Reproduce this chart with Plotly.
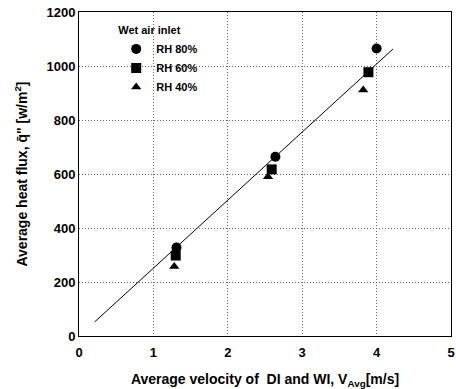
import plotly.graph_objects as go

# Data
v_rh80 = [1.31, 2.64, 4.00]
q_rh80 = [328, 664, 1065]
v_rh60 = [1.30, 2.59, 3.89]
q_rh60 = [298, 617, 977]
v_rh40 = [1.28, 2.54, 3.82]
q_rh40 = [257, 590, 911]
fit_v = [0.21, 4.22]
fit_q = [52, 1063]

x_ticks = [0, 1, 2, 3, 4, 5]
y_ticks = [0, 200, 400, 600, 800, 1000, 1200]

FONT = "Liberation Sans, Arial, sans-serif"

fig = go.Figure()
fig.add_trace(go.Scatter(x=fit_v, y=fit_q, mode="lines",
                         line=dict(color="black", width=1), showlegend=False))
fig.add_trace(go.Scatter(x=v_rh80, y=q_rh80, mode="markers", name="RH 80%",
                         marker=dict(symbol="circle", size=10, color="black")))
fig.add_trace(go.Scatter(x=v_rh60, y=q_rh60, mode="markers", name="RH 60%",
                         marker=dict(symbol="square", size=10, color="black")))
fig.add_trace(go.Scatter(x=v_rh40, y=q_rh40, mode="markers", name="RH 40%",
                         marker=dict(symbol="triangle-up", size=9, color="black")))

axis_common = dict(showline=True, linecolor="black", linewidth=1, mirror=True,
                   showgrid=True, gridcolor="#666666", griddash="1px,2px", gridwidth=1,
                   zeroline=False, ticks="", automargin=False,
                   tickfont=dict(family=FONT, size=13, color="black", weight="bold"))

fig.update_layout(
    width=456, height=389,
    margin=dict(l=79, r=5, t=12, b=53),
    paper_bgcolor="white", plot_bgcolor="white",
    font=dict(family=FONT, color="black"),
    xaxis=dict(range=[0, 5], tickvals=x_ticks, ticktext=[str(t) for t in x_ticks],
               ticklabelstandoff=4,
               title=dict(text="Average velocity of  DI and WI, V<sub>Avg</sub>[m/s]",
                          font=dict(family=FONT, size=14, color="black", weight="bold")),
               **axis_common),
    yaxis=dict(range=[0, 1200], tickvals=y_ticks, ticktext=[str(t) for t in y_ticks],
               title=dict(text="Average heat flux, q\u0304\" [w/m<sup>2</sup>]",
                          font=dict(family=FONT, size=14, color="black", weight="bold")),
               **axis_common),
    legend=dict(x=0.10, y=0.975, xanchor="left", yanchor="top",
                bgcolor="rgba(255,255,255,0)", borderwidth=0,
                title=dict(text="Wet air inlet  ",
                           font=dict(family=FONT, size=11, color="black", weight="bold"),
                           side="top"),
                font=dict(family=FONT, size=11, color="black", weight="bold"),
                itemwidth=30),
)

fig.write_html("out.html", config={"displayModeBar": False},
               post_script="document.body.style.margin='0';document.body.style.overflow='hidden';")
